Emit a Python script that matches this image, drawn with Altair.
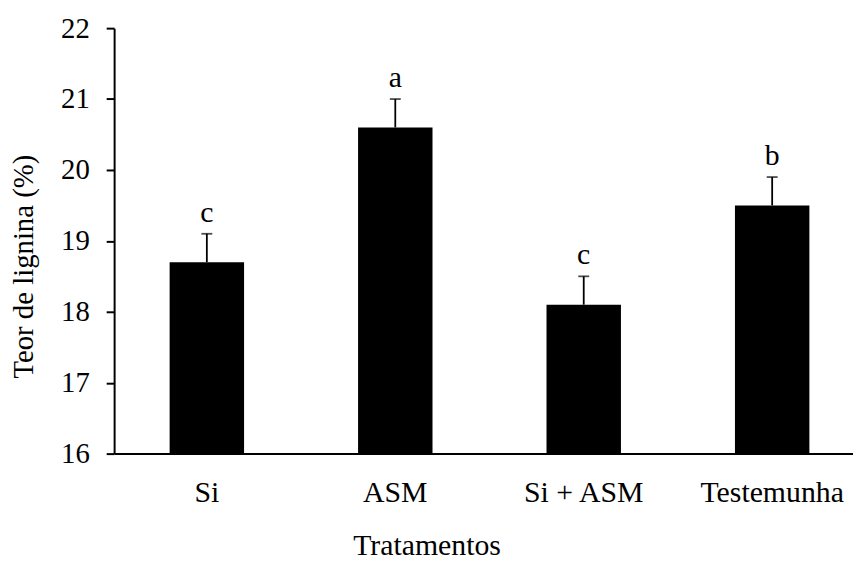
import altair as alt
import pandas as pd

tratamentos = ["Si", "ASM", "Si + ASM", "Testemunha"]
medias = [18.7, 20.6, 18.1, 19.5]
erros = [0.4, 0.4, 0.4, 0.4]
letras = ["c", "a", "c", "b"]

df = pd.DataFrame({
    "trat": tratamentos,
    "media": medias,
    "topo": [m + e for m, e in zip(medias, erros)],
    "letra": letras,
})

FONT = "Liberation Serif"
YT = "Teor de lignina (%)"
XT = "Tratamentos"

xs = alt.Scale(paddingInner=0.605, paddingOuter=0.263, align=0.56)
ys = alt.Scale(domain=[16, 22], nice=False, zero=False)


def X():
    return alt.X("trat:N", sort=tratamentos, title=XT, scale=xs)


def Y(field):
    return alt.Y(field, title=YT, scale=ys, axis=alt.Axis(values=[16, 17, 18, 19, 20, 21, 22], format="d"))


base = alt.Chart(df)
bars = base.mark_bar(color="black").encode(x=X(), y=Y("media:Q"), y2=alt.datum(16))
rule = base.mark_rule(color="black", strokeWidth=1.8).encode(x=X(), y=Y("media:Q"), y2="topo:Q")
cap = base.mark_tick(color="black", size=11, thickness=1.8).encode(x=X(), y=Y("topo:Q"))
txt = base.mark_text(font=FONT, fontSize=30, color="black", baseline="alphabetic", dy=-12).encode(
    x=X(), y=Y("topo:Q"), text="letra:N"
)

chart = (
    (bars + rule + cap + txt)
    .properties(
        width=745, height=429,
        autosize=alt.AutoSizeParams(type="none"),
        padding={"left": 107, "top": 18, "right": 0, "bottom": 110},
    )
    .configure_view(stroke=None)
    .configure_axis(
        grid=False, domainColor="black", domainWidth=2, tickColor="black", tickWidth=2,
        labelFont=FONT, labelColor="black", titleFont=FONT, titleColor="black",
        titleFontWeight="normal", titleFontSize=29,
    )
    .configure_axisX(
        labelAngle=0, tickSize=0, labelPadding=24, labelFontSize=30,
        titleX=315, titleY=102, titleBaseline="alphabetic", titleAlign="center", titleFontSize=30,
    )
    .configure_axisY(
        tickSize=8, labelPadding=17, labelFontSize=29,
        titleX=-82, titleY=240, titleBaseline="alphabetic", titleAlign="center", titleAngle=270,
    )
)

chart.save("out.html", embed_options={"renderer": "svg", "actions": False})
